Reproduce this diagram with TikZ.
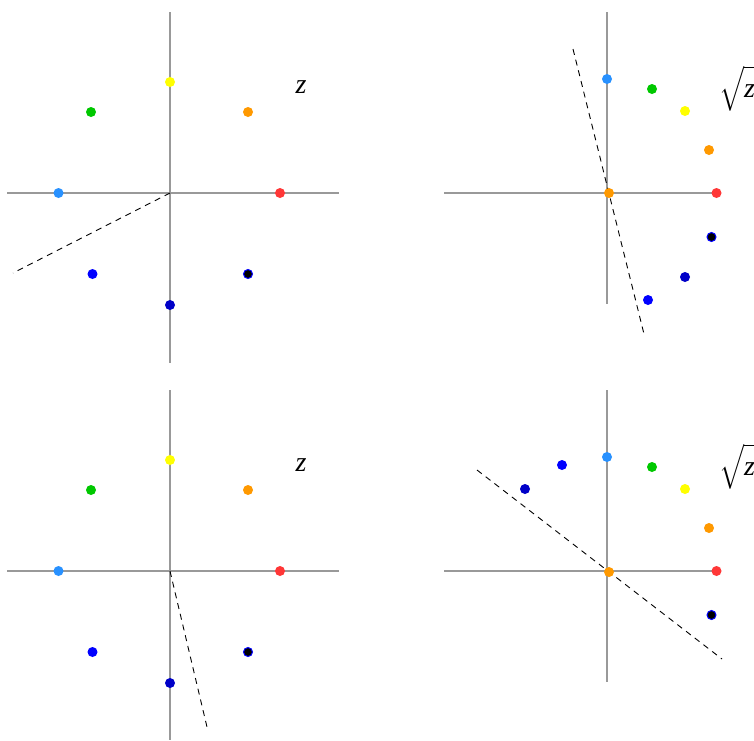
\documentclass[tikz,border=0pt]{standalone}
\usepackage{exscale}
\usepackage{fontspec}
\setmainfont{Liberation Serif}
\begin{document}
\begin{tikzpicture}[x=1pt,y=-1pt,
  axis/.style={draw=black!40, line width=1.1pt},
  cut/.style={draw=black, line width=0.9pt, dash pattern=on 6pt off 5pt},
  dot/.style={circle, inner sep=0pt, minimum size=10pt, draw=none},
  bdot/.style={dot, fill=black, draw=cB, line width=1pt, minimum size=9pt},
  lbl/.style={font=\fontsize{28}{32}\selectfont\itshape, inner sep=0pt},
  rlbl/.style={font=\fontsize{28}{32}\selectfont, inner sep=0pt, anchor=base west}]
\definecolor{cLB}{RGB}{40,145,255}
\definecolor{cG}{RGB}{0,200,0}
\definecolor{cY}{RGB}{255,255,0}
\definecolor{cO}{RGB}{255,153,0}
\definecolor{cR}{RGB}{255,55,55}
\definecolor{cB}{RGB}{0,0,255}
\definecolor{cDB}{RGB}{0,0,200}
\useasboundingbox[fill=white] (0,0) rectangle (754,740);

% ---------- top left: z ----------
\coordinate (o1) at (170,193);
\coordinate (v1a) at (170,12);  \coordinate (v1b) at (170,363);
\coordinate (h1a) at (7,193);   \coordinate (h1b) at (339,193);
\draw[axis] (v1a) -- (v1b);
\draw[axis] (h1a) -- (h1b);
\coordinate (c1) at (13,273);
\draw[cut] (o1) -- (c1);
\node[dot, fill=cY]  (a1) at (170,82) {};
\node[dot, fill=cG]  (a2) at (91,112) {};
\node[dot, fill=cO]  (a3) at (248,112) {};
\node[dot, fill=cLB] (a4) at (58.5,193) {};
\node[dot, fill=cR]  (a5) at (280,193) {};
\node[dot, fill=cB]  (a6) at (92.5,274) {};
\node[bdot] (a7) at (248,274) {};
\node[dot, fill=cDB] (a8) at (170,305) {};
\node[lbl] (z1) at (301,87) {z};

% ---------- top right: sqrt z ----------
\coordinate (o2) at (607,193);
\coordinate (v2a) at (607,12);  \coordinate (v2b) at (607,304);
\coordinate (h2a) at (444,193); \coordinate (h2b) at (716,193);
\draw[axis] (v2a) -- (v2b);
\draw[axis] (h2a) -- (h2b);
\coordinate (c2a) at (573,49); \coordinate (c2b) at (644,334);
\draw[cut] (c2a) -- (c2b);
\node[dot, fill=cLB] (b1) at (607,79) {};
\node[dot, fill=cG]  (b2) at (652,89) {};
\node[dot, fill=cY]  (b3) at (685,111) {};
\node[dot, fill=cO]  (b4) at (709,150) {};
\node[dot, fill=cR]  (b5) at (716.5,193) {};
\node[bdot] (b6) at (711.5,237) {};
\node[dot, fill=cDB] (b7) at (685,277) {};
\node[dot, fill=cB]  (b8) at (648,300) {};
\node[dot, fill=cO]  (b9) at (609,193) {};
\node[rlbl] (z2) at (719,97) {$\sqrt{\rule[-0.3em]{0pt}{1.08em}\textit{z}}$};

% ---------- bottom left: z ----------
\coordinate (o3) at (170,571);
\coordinate (v3a) at (170,390);  \coordinate (v3b) at (170,740);
\coordinate (h3a) at (7,571);    \coordinate (h3b) at (339,571);
\draw[axis] (v3a) -- (v3b);
\draw[axis] (h3a) -- (h3b);
\coordinate (c3) at (207,727);
\draw[cut] (o3) -- (c3);
\node[dot, fill=cY]  (d1) at (170,460) {};
\node[dot, fill=cG]  (d2) at (91,490) {};
\node[dot, fill=cO]  (d3) at (248,490) {};
\node[dot, fill=cLB] (d4) at (58.5,571) {};
\node[dot, fill=cR]  (d5) at (280,571) {};
\node[dot, fill=cB]  (d6) at (92.5,652) {};
\node[bdot] (d7) at (248,652) {};
\node[dot, fill=cDB] (d8) at (170,683) {};
\node[lbl] (z3) at (301,465) {z};

% ---------- bottom right: sqrt z ----------
\coordinate (o4) at (607,571);
\coordinate (v4a) at (607,390);  \coordinate (v4b) at (607,682);
\coordinate (h4a) at (444,571);  \coordinate (h4b) at (716,571);
\draw[axis] (v4a) -- (v4b);
\draw[axis] (h4a) -- (h4b);
\coordinate (c4a) at (477,470); \coordinate (c4b) at (722,659);
\draw[cut] (c4a) -- (c4b);
\node[dot, fill=cDB] (e1) at (525,489) {};
\node[dot, fill=cB]  (e2) at (562,465) {};
\node[dot, fill=cLB] (e3) at (607,457) {};
\node[dot, fill=cG]  (e4) at (652,467) {};
\node[dot, fill=cY]  (e5) at (685,489) {};
\node[dot, fill=cO]  (e6) at (709,528) {};
\node[dot, fill=cR]  (e7) at (716.5,571) {};
\node[bdot] (e8) at (711.5,615) {};
\node[dot, fill=cO]  (e9) at (609,572) {};
\node[rlbl] (z4) at (719,475) {$\sqrt{\rule[-0.3em]{0pt}{1.08em}\textit{z}}$};
\end{tikzpicture}
\end{document}
